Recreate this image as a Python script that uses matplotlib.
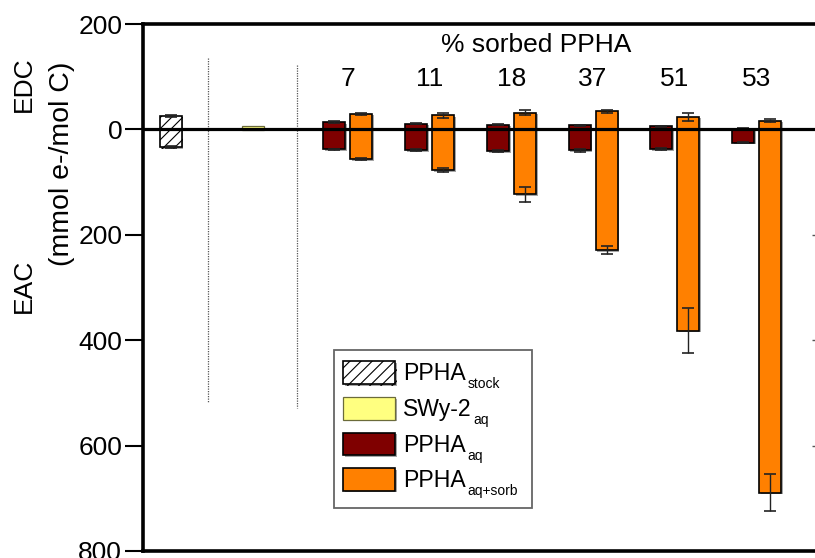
import matplotlib
matplotlib.use("Agg")
import matplotlib.pyplot as plt
import matplotlib.patheffects as pe
from matplotlib.patches import Rectangle
import numpy as np

plt.rcParams['font.family'] = ['Liberation Sans', 'DejaVu Sans']
plt.rcParams['hatch.color'] = '#333333'
plt.rcParams['hatch.linewidth'] = 0.8

# electron donating (EDC, up) and accepting (EAC, down) capacities, mmol e-/mol C
stock_edc, stock_eac = 26, 34
stock_edc_err, stock_eac_err = 2, 2
swy_edc, swy_eac = 6.5, 0.5

sorbed_pct = ['7', '11', '18', '37', '51', '53']
aq_edc = [14, 11, 9, 8, 6, 1.5]
aq_eac = [38, 39, 41, 40, 37, 25]
aq_edc_err = [1, 1, 1, 1, 1, 1]
aq_eac_err = [1, 2, 2, 2, 2, 1]
sorb_edc = [30, 27, 32, 34, 24, 16.5]
sorb_eac = [56, 77, 123, 229, 382, 689]
sorb_edc_err = [2, 4.5, 4, 3, 8, 3]
sorb_eac_err = [2, 3, 14, 8, 43, 35]

ytick_vals = [200, 0, -200, -400, -600, -800]
ytick_labels = ['200', '0', '200', '400', '600', '800']

# legend entries: main text and subscript
legend_main = ['PPHA', 'SWy-2', 'PPHA', 'PPHA']
legend_sub = ['stock', 'aq', 'aq', 'aq+sorb']

FS = 19

fig = plt.figure(figsize=(8.15, 5.58), dpi=100)
ax = fig.add_axes([143/815, 1 - 551/558, (818 - 143)/815, (551 - 24)/558])

w = 0.27
off = 0.165
shadow = [pe.SimplePatchShadow(offset=(1.2, -1.2), shadow_rgbFace='#808080', alpha=0.7), pe.Normal()]
err_kw = dict(fmt='none', ecolor='#222222', elinewidth=1.0, capsize=4.5, capthick=1.2, zorder=4)


def capacity_bar(x, edc, eac, color, hatch=None, label=None, lw=1.2, ec='black'):
    bars = ax.bar(x, np.asarray(edc) + np.asarray(eac), bottom=-np.asarray(eac), width=w,
                  color=color, edgecolor=ec, linewidth=lw, hatch=hatch,
                  label=label, zorder=3)
    for b in bars:
        b.set_path_effects(shadow)
    return bars


x_stock = -2.167
x_swy = -1.163
xg = np.arange(len(sorbed_pct))

capacity_bar([x_stock], [stock_edc], [stock_eac], 'white', hatch='///', label=legend_main[0])
ax.errorbar([x_stock, x_stock], [stock_edc, -stock_eac], yerr=[stock_edc_err, stock_eac_err], **err_kw)
capacity_bar([x_swy], [swy_edc], [swy_eac], '#FFFF80', label=legend_main[1], lw=0.9, ec='#6b6b3a')
capacity_bar(xg - off, aq_edc, aq_eac, '#7F0000', label=legend_main[2])
capacity_bar(xg + off, sorb_edc, sorb_eac, '#FF8000', label=legend_main[3])

ax.errorbar(xg - off, aq_edc, yerr=aq_edc_err, **err_kw)
ax.errorbar(xg - off, -np.asarray(aq_eac), yerr=aq_eac_err, **err_kw)
ax.errorbar(xg + off, sorb_edc, yerr=sorb_edc_err, **err_kw)
ax.errorbar(xg + off, -np.asarray(sorb_eac), yerr=sorb_eac_err, **err_kw)

# zero line and separators
ax.axhline(0, color='black', linewidth=2.3, zorder=5)
ax.plot([-1.705, -1.705], [135, -520], color='#555555', linestyle=(0, (1, 1)), linewidth=0.9, zorder=1)
ax.plot([-0.621, -0.621], [123, -529], color='#555555', linestyle=(0, (1, 1)), linewidth=0.9, zorder=1)

for xi, s in zip(xg, sorbed_pct):
    ax.text(xi, 95, s, ha='center', va='center', fontsize=FS)
ax.text(2.3, 160, '% sorbed PPHA', ha='center', va='center', fontsize=FS)

ax.set_xlim(-2.506, 5.75)
ax.set_ylim(-800, 200)
ax.set_xticks([])
ax.set_yticks(ytick_vals)
ax.set_yticklabels(ytick_labels, fontsize=FS)
ax.tick_params(axis='y', direction='out', length=13, width=1.5, pad=2)
for side in ['left', 'top', 'bottom', 'right']:
    ax.spines[side].set_linewidth(2.6)

sec = ax.secondary_yaxis('right')
sec.set_yticks(ytick_vals)
sec.set_yticklabels([])
sec.tick_params(direction='in', length=4, width=1.0, color='#555555')

fig.text(24/815, 1 - 84/558, 'EDC', rotation=90, ha='center', va='center', fontsize=FS)
fig.text(24/815, 1 - 286/558, 'EAC', rotation=90, ha='center', va='center', fontsize=FS)
fig.text(62/815, 1 - 164/558, '(mmol e-/mol C)', rotation=90, ha='center', va='center', fontsize=20.5)

# legend: handles and main text from matplotlib, subscripts and frame added after layout
LFS = 16.6
leg = ax.legend(loc='upper left', bbox_to_anchor=(335/815, 1 - 353/558), bbox_transform=fig.transFigure,
                borderaxespad=0, fontsize=LFS, frameon=False,
                handlelength=2.26, handleheight=1.13, labelspacing=0.5, handletextpad=0.35,
                borderpad=0.36)
leg.set_zorder(10)
ax.add_patch(Rectangle((334/815, 1 - 508/558), (532 - 334)/815, (508 - 350)/558,
                       transform=fig.transFigure, facecolor='white', edgecolor='#666666',
                       linewidth=1.3, zorder=9, clip_on=False))

fig.canvas.draw()
renderer = fig.canvas.get_renderer()
for t, sub in zip(leg.get_texts(), legend_sub):
    bb = t.get_window_extent(renderer)
    x0, y0 = fig.transFigure.inverted().transform((bb.x1 + 1, bb.y0 - 3))
    fig.text(x0, y0, sub, fontsize=10, ha='left', va='baseline', zorder=11)

fig.savefig('out.png', dpi=100)
